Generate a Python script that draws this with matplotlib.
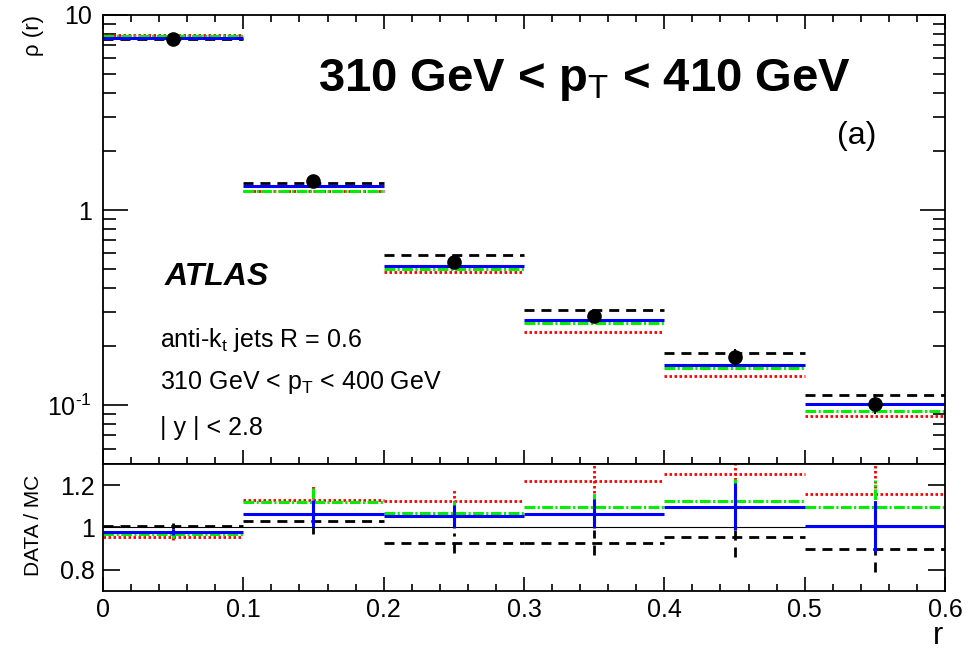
"""
Jet shape rho(r) for 310 < pT < 410 GeV with DATA/MC ratio panel.
"""

import numpy as np
import matplotlib
matplotlib.use("Agg")
import matplotlib.pyplot as plt
from matplotlib.ticker import MultipleLocator, LogLocator, NullFormatter, FuncFormatter

plt.rcParams.update({
    "font.family": ["Liberation Sans", "DejaVu Sans"],
    "mathtext.fontset": "custom",
    "mathtext.rm": "Liberation Sans",
    "mathtext.it": "Liberation Sans:italic",
    "mathtext.bf": "Liberation Sans:bold",
    "mathtext.default": "regular",
    "axes.linewidth": 1.3,
})

# ── data ─────────────────────────────────────────────────────────────────────
bin_edges = [0.0, 0.1, 0.2, 0.3, 0.4, 0.5, 0.6]

rho_data    = [7.50, 1.41, 0.542, 0.287, 0.176, 0.102]
rel_err     = [0.015, 0.06, 0.052, 0.066, 0.10, 0.12]

rho_solid   = [7.65, 1.336, 0.518, 0.272, 0.160, 0.101]    # blue solid
rho_dashdot = [7.80, 1.26, 0.500, 0.263, 0.156, 0.0936]    # green dash-dot
rho_dotted  = [7.93, 1.25, 0.484, 0.236, 0.141, 0.0879]    # red dotted
rho_dashed  = [7.50, 1.37, 0.589, 0.308, 0.185, 0.113]     # black dashed

ratio_solid   = [0.978, 1.064, 1.053, 1.066, 1.099, 1.006]
ratio_dashdot = [0.967, 1.120, 1.068, 1.097, 1.126, 1.095]
ratio_dotted  = [0.955, 1.130, 1.126, 1.219, 1.254, 1.158]
ratio_dashed  = [1.006, 1.030, 0.926, 0.929, 0.957, 0.900]

rho_ticks = [0.1, 1, 10]
rho_tick_labels = [r"$10^{\text{-}1}$", "1", "10"]
ratio_ticks = [0.8, 1.0, 1.2]
ratio_tick_labels = ["0.8", "1", "1.2"]

# ── styles ───────────────────────────────────────────────────────────────────
STYLES = {
    "dashed":  dict(color="black",   lw=2.0, ls=(0, (3.6, 2.5))),
    "dotted":  dict(color="#ff0000", lw=2.0, ls=(0, (0.9, 0.9))),
    "dashdot": dict(color="#00ee00", lw=2.2, ls=(0, (3.5, 0.8, 0.7, 0.8))),
    "solid":   dict(color="#0000ff", lw=2.2, ls="solid"),
}

edges = np.asarray(bin_edges)
centres = 0.5 * (edges[:-1] + edges[1:])
rel = np.asarray(rel_err)


def draw_hist(ax, vals, style):
    ax.hlines(vals, edges[:-1], edges[1:], colors=style["color"],
              linewidths=style["lw"], linestyles=[style["ls"]])


def draw_ratio(ax, vals, style):
    vals = np.asarray(vals)
    draw_hist(ax, vals, style)
    ax.vlines(centres, vals * (1 - rel), vals * (1 + rel), colors=style["color"],
              linewidths=style["lw"], linestyles=[style["ls"]])


fig = plt.figure(figsize=(9.78, 6.51), dpi=100)
ax = fig.add_axes([0.1053, 0.2873, 0.861, 0.6897])
rax = fig.add_axes([0.1053, 0.0922, 0.861, 0.1951], sharex=ax)

# ── top panel ────────────────────────────────────────────────────────────────
for vals, key in [(rho_dotted, "dotted"), (rho_dashdot, "dashdot"),
                  (rho_dashed, "dashed"), (rho_solid, "solid")]:
    draw_hist(ax, vals, STYLES[key])

data = np.asarray(rho_data)
ax.errorbar(centres, data, yerr=data * rel, fmt="o", color="black",
            ms=9.5, elinewidth=1.5, capsize=0, zorder=5)

ax.set_yscale("log")
ax.set_xlim(0, 0.6)
ax.set_ylim(0.05, 10)
ax.set_yticks(rho_ticks, labels=rho_tick_labels)
ax.yaxis.set_minor_locator(LogLocator(subs=np.arange(2, 10)))
ax.yaxis.set_minor_formatter(NullFormatter())
ax.xaxis.set_major_locator(MultipleLocator(0.1))
ax.xaxis.set_minor_locator(MultipleLocator(0.02))
ax.xaxis.set_major_formatter(FuncFormatter(lambda v, _: f"{v:g}"))

ax.tick_params(which="both", direction="in", top=True, right=True,
               labelbottom=False, width=1.2, labelsize=18)
ax.tick_params(axis="y", which="major", length=18, pad=8)
ax.tick_params(axis="y", which="minor", length=9)
ax.tick_params(axis="x", which="major", length=10)
ax.tick_params(axis="x", which="minor", length=5)

ax.text(0.255, 0.83, r"310 GeV < p$_{\mathrm{T}}$ < 410 GeV", transform=ax.transAxes,
        fontsize=34, fontweight="bold", va="baseline")
ax.text(0.918, 0.712, "(a)", transform=ax.transAxes, fontsize=23,
        ha="right", va="baseline")
ax.text(0.0736, 0.399, "ATLAS", transform=ax.transAxes, fontsize=23,
        fontweight="bold", fontstyle="italic", va="baseline")
ax.text(0.0677, 0.261, r"anti-k$_{t}$ jets R = 0.6", transform=ax.transAxes,
        fontsize=18, va="baseline")
ax.text(0.0677, 0.167, r"310 GeV < p$_{T}$ < 400 GeV", transform=ax.transAxes,
        fontsize=18, va="baseline")
ax.text(0.0677, 0.0646, "| y | < 2.8", transform=ax.transAxes,
        fontsize=18, va="baseline")

# ── ratio panel ──────────────────────────────────────────────────────────────
rax.axhline(1.0, color="black", lw=0.8)
for vals, key in [(ratio_dashed, "dashed"), (ratio_dotted, "dotted"),
                  (ratio_dashdot, "dashdot"), (ratio_solid, "solid")]:
    draw_ratio(rax, vals, STYLES[key])

rax.set_ylim(0.7, 1.3)
rax.set_yticks(ratio_ticks, labels=ratio_tick_labels)
rax.tick_params(which="both", direction="in", top=False, right=True,
                width=1.2, labelsize=18)
rax.tick_params(axis="y", which="major", length=12, pad=6)
rax.tick_params(axis="x", which="major", length=10, pad=5)
rax.tick_params(axis="x", which="minor", length=5)

fig.text(0.034, 0.977, "ρ (r)", rotation=90, ha="center", va="top", fontsize=16)
fig.text(0.034, 0.1935, "DATA / MC", rotation=90, ha="center", va="center",
         fontsize=15)
fig.text(0.9642, 0.0, "r", ha="right", va="bottom", fontsize=22)

fig.savefig("out.png", dpi=100)
plt.close(fig)
